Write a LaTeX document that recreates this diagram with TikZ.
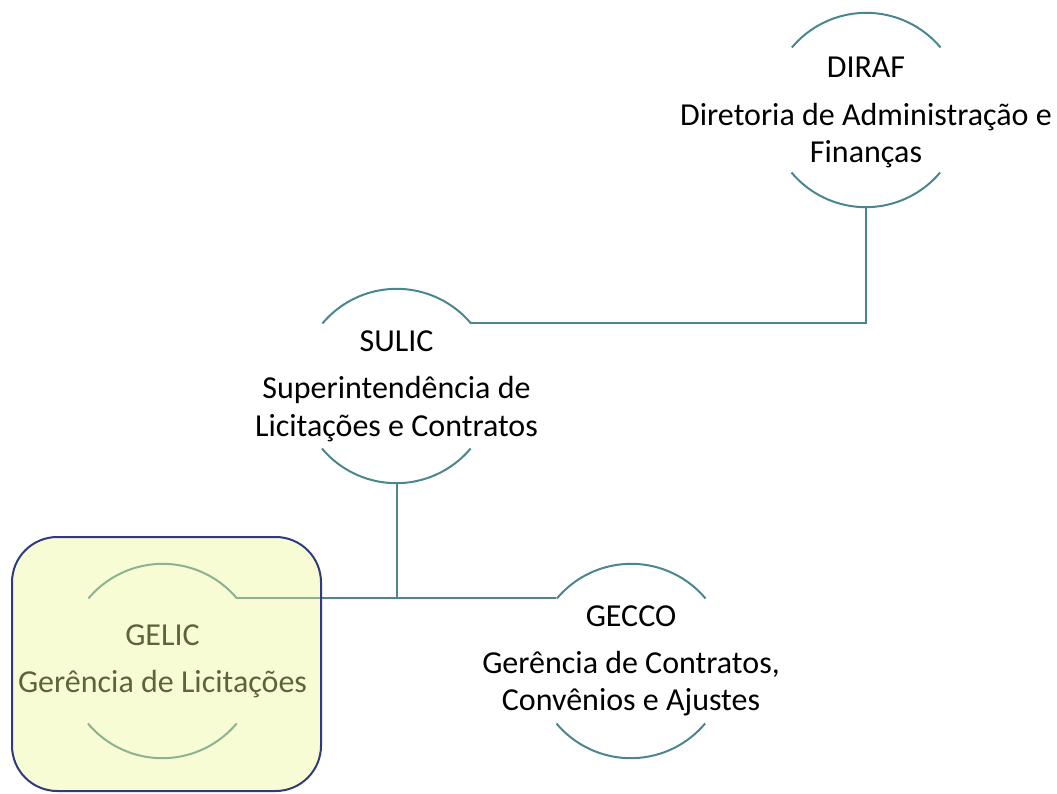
\documentclass[tikz,border=0pt]{standalone}
\usepackage{fontspec}
\setmainfont{Carlito}
\definecolor{linkteal}{HTML}{4A868E}
\definecolor{markyellow}{HTML}{EEF796}
\definecolor{markblue}{HTML}{2E3B7C}
\begin{document}
\begin{tikzpicture}[x=0.75pt, y=0.75pt,
    unit/.style={circle, minimum size=145.5pt, inner sep=0pt},
    unittext/.style={align=center, font=\fontsize{24}{28}\selectfont},
    ring/.style={draw=linkteal, line width=1.5pt},
    link/.style={draw=linkteal, line width=1.5pt}]
    \useasboundingbox (0, 0) rectangle (1057, -793);

    % units
    \node[unit] (dir) at (866, -110) {};
    \node[unit] (sul) at (396.5, -386) {};
    \node[unit] (gel) at (162.5, -661) {};
    \node[unit] (gec) at (631, -661) {};

    \foreach \u in {dir, sul, gel, gec} {
      \draw[ring] (\u.40) arc[start angle=40, end angle=140, radius=72.75pt];
      \draw[ring] (\u.220) arc[start angle=220, end angle=320, radius=72.75pt];
    }

    \node[unittext] (dirtext) at ([yshift=-2pt]dir) {DIRAF\\[7.5pt]Diretoria de Administração e\\Finanças};
    \node[unittext] (sultext) at (sul) {SULIC\\[7.5pt]Superintendência de\\Licitações e Contratos};
    \node[unittext] (geltext) at (gel) {GELIC\\[7.5pt]Gerência de Licitações};
    \node[unittext] (gectext) at (gec) {GECCO\\[7.5pt]Gerência de Contratos,\\Convênios e Ajustes};

    % links
    \draw[link] (dir.south) |- (sul.40);
    \draw[link] (gel.40) -- (gec.140);
    \draw[link] (sul.south) -- (sul.south |- gel.40);

    % highlight over GELIC
    \draw[draw=markblue, line width=1.5pt, fill=markyellow, fill opacity=0.4, rounded corners=34pt]
      (12, -537) rectangle (321, -791);
\end{tikzpicture}
\end{document}
